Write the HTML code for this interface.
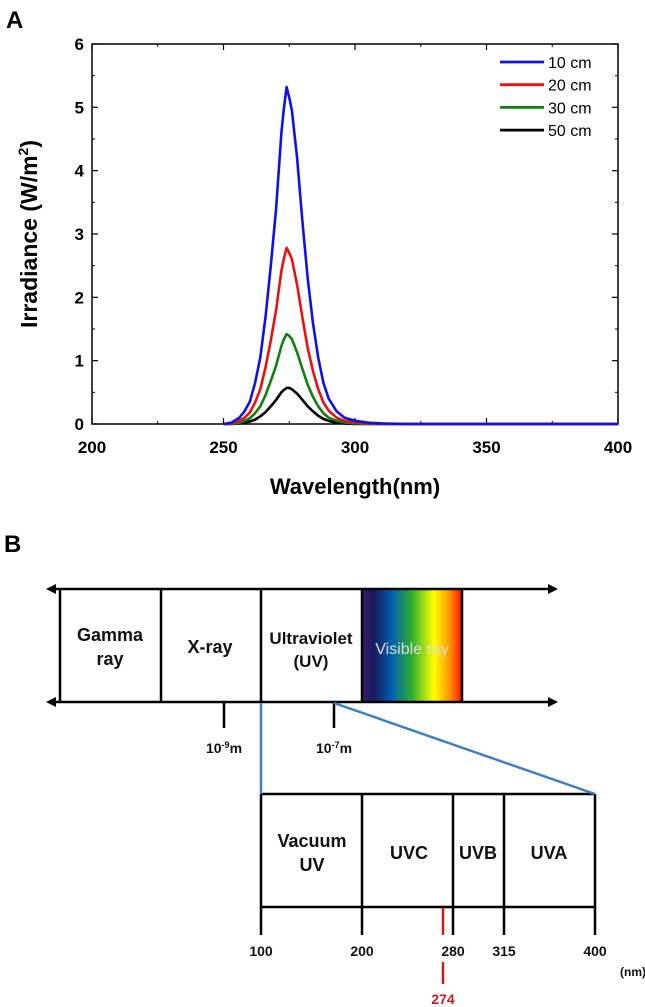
<!DOCTYPE html>
<html><head><meta charset="utf-8"><style>
body{margin:0;background:#fff}
svg{display:block;font-family:"Liberation Sans",sans-serif}
</style></head><body>
<svg id="fig" width="645" height="1007" viewBox="0 0 645 1007">
<text x="6" y="28" font-size="24" font-weight="bold">A</text>
<g id="chart"></g>
<text x="4" y="552" font-size="24" font-weight="bold">B</text>
<g id="spec">
<defs>
<linearGradient id="vis" x1="0" x2="1" y1="0" y2="0">
<stop offset="0" stop-color="#3a1a6e"/><stop offset="0.12" stop-color="#1a1a5e"/><stop offset="0.3" stop-color="#0060b0"/><stop offset="0.5" stop-color="#30b030"/><stop offset="0.72" stop-color="#ffff00"/><stop offset="0.88" stop-color="#ff9000"/><stop offset="1" stop-color="#ff1000"/>
</linearGradient>
</defs>
<rect x="362" y="589" width="100" height="113" fill="url(#vis)"/>
<g stroke="#000" stroke-width="2.5" fill="none">
<line x1="50" y1="589" x2="552" y2="589"/>
<line x1="50" y1="702" x2="552" y2="702"/>
<line x1="60" y1="589" x2="60" y2="702"/><line x1="161" y1="589" x2="161" y2="702"/><line x1="261" y1="589" x2="261" y2="702"/><line x1="362" y1="589" x2="362" y2="702"/><line x1="462" y1="589" x2="462" y2="702"/>
<line x1="224" y1="702" x2="224" y2="728"/>
<line x1="334" y1="702" x2="334" y2="728"/>
<line x1="261" y1="794" x2="595" y2="794"/><line x1="261" y1="907" x2="595" y2="907"/>
<line x1="261" y1="794" x2="261" y2="935"/><line x1="362" y1="794" x2="362" y2="935"/><line x1="453" y1="794" x2="453" y2="935"/><line x1="504" y1="794" x2="504" y2="935"/><line x1="595" y1="794" x2="595" y2="935"/>
</g>
<g fill="#000">
<polygon points="46,589 56,584 56,594"/><polygon points="558,589 548,584 548,594"/>
<polygon points="46,702 56,697 56,707"/><polygon points="558,702 548,697 548,707"/>
</g>
<g stroke="#3d7fc2" stroke-width="2.5">
<line x1="261" y1="703" x2="261" y2="794"/>
<line x1="334" y1="703" x2="595" y2="794"/>
</g>
<g stroke="#c81e1e" stroke-width="2.5">
<line x1="443" y1="908" x2="443" y2="935"/>
<line x1="443" y1="962" x2="443" y2="984"/>
</g>
<g font-size="18" font-weight="bold" text-anchor="middle" fill="#111">
<text x="110" y="641">Gamma</text>
<text x="110" y="665">ray</text>
<text x="210" y="653">X-ray</text>
<text x="311" y="644" font-size="17">Ultraviolet</text>
<text x="311" y="667" font-size="17">(UV)</text>
<text x="412" y="654" font-size="16" fill="#ddd" font-weight="normal">Visible ray</text>
<text x="312" y="847">Vacuum</text>
<text x="312" y="871">UV</text>
<text x="409" y="859">UVC</text>
<text x="478" y="859">UVB</text>
<text x="549" y="859">UVA</text>
</g>
<g font-size="14" font-weight="bold" text-anchor="middle" fill="#111">
<text x="224" y="753">10<tspan font-size="9" dy="-5">-9</tspan><tspan dy="5">m</tspan></text>
<text x="334" y="753">10<tspan font-size="9" dy="-5">-7</tspan><tspan dy="5">m</tspan></text>
<text x="261" y="956">100</text><text x="362" y="956">200</text><text x="453" y="956">280</text><text x="504" y="956">315</text><text x="595" y="956">400</text>
<text x="633" y="976" font-size="12">(nm)</text>
<text x="443" y="1004" fill="#c81e1e">274</text>
</g>
</g>
</svg>
<script>
const wavelengths = [250,253,256,258,260,262,264,266,268,270,272,273,274,275,276,278,280,282,284,286,288,290,293,296,300,305,310,320,400];
const series10 = [0,0.02,0.1,0.2,0.35,0.65,1.05,1.7,2.5,3.4,4.6,5.0,5.32,5.15,4.95,4.2,3.2,2.3,1.6,1.05,0.65,0.4,0.2,0.1,0.05,0.02,0.01,0,0];
const series20 = [0,0.01,0.05,0.1,0.18,0.34,0.55,0.9,1.32,1.8,2.42,2.62,2.78,2.7,2.6,2.2,1.68,1.2,0.84,0.55,0.34,0.21,0.1,0.05,0.025,0.01,0.005,0,0];
const series30 = [0,0,0.02,0.05,0.09,0.17,0.28,0.46,0.68,0.92,1.23,1.34,1.42,1.39,1.34,1.13,0.87,0.62,0.43,0.28,0.17,0.1,0.05,0.025,0.01,0,0,0,0];
const series50 = [0,0,0.01,0.02,0.04,0.07,0.12,0.19,0.28,0.38,0.5,0.54,0.57,0.57,0.55,0.48,0.38,0.28,0.2,0.13,0.08,0.05,0.02,0.01,0,0,0,0,0];
const seriesNames = ["10 cm","20 cm","30 cm","50 cm"];
const xTicks = [200,250,300,350,400];
const yTicks = [0,1,2,3,4,5,6];

const NS="http://www.w3.org/2000/svg";
const g=document.getElementById('chart');
const L=92,R=618,T=44,B=424;
const xS=v=>L+(v-200)/200*(R-L);
const yS=v=>B-v/6*(B-T);
function mk(tag,attrs,parent){const e=document.createElementNS(NS,tag);for(const k in attrs)e.setAttribute(k,attrs[k]);(parent||g).appendChild(e);return e;}

const frame=mk('rect',{x:L,y:T,width:R-L,height:B-T,fill:'none',stroke:'#000','stroke-width':1.5});



xTicks.forEach((t,i)=>{
  const x=xS(t);
  mk('line',{x1:x,y1:B,x2:x,y2:B-6,stroke:'#000','stroke-width':1.2});
  mk('line',{x1:x,y1:T,x2:x,y2:T+6,stroke:'#000','stroke-width':1.2});
  if(i<xTicks.length-1){const xm=xS(t+25);mk('line',{x1:xm,y1:B,x2:xm,y2:B-3,stroke:'#000'});mk('line',{x1:xm,y1:T,x2:xm,y2:T+3,stroke:'#000'});}
  const tx=mk('text',{x:x,y:453,'font-size':17,'font-weight':'bold','text-anchor':'middle'});
  tx.textContent=t;
  
  
});
yTicks.forEach((t,i)=>{
  const y=yS(t);
  mk('line',{x1:L,y1:y,x2:L+6,y2:y,stroke:'#000','stroke-width':1.2});
  mk('line',{x1:R,y1:y,x2:R-6,y2:y,stroke:'#000','stroke-width':1.2});
  if(i<yTicks.length-1){const ym=yS(t+0.5);mk('line',{x1:L,y1:ym,x2:L+3,y2:ym,stroke:'#000'});mk('line',{x1:R,y1:ym,x2:R-3,y2:ym,stroke:'#000'});}
  const ty=mk('text',{x:L-8,y:y+6,'font-size':17,'font-weight':'bold','text-anchor':'end'});
  ty.textContent=t;
  
  
});
const xt=mk('text',{x:355,y:494,'font-size':22,'font-weight':'bold','text-anchor':'middle'});
xt.textContent='Wavelength(nm)';


const yt=mk('text',{x:0,y:0,'font-size':23,'font-weight':'bold','text-anchor':'middle',transform:'translate(37,234) rotate(-90)'});
yt.innerHTML='Irradiance (W/m<tspan font-size="14" dy="-9">2</tspan><tspan dy="9">)</tspan>';



const all=[series10,series20,series30,series50];
const colors=['#1010ee','#ee1010','#108010','#000'];
[3,2,1,0].forEach(si=>{
  const d=wavelengths.map((w,i)=>(i?'L':'M')+xS(w).toFixed(1)+','+yS(all[si][i]).toFixed(1)).join(' ');
  const p=mk('path',{d:d,fill:'none',stroke:colors[si],'stroke-width':2.6,'stroke-linejoin':'round'});
  
  
});
seriesNames.forEach((n,i)=>{
  const y=62+i*22.7;
  const ln=mk('line',{x1:500,y1:y,x2:544,y2:y,stroke:colors[i],'stroke-width':2.8});
  
  
  const t=mk('text',{x:548,y:y+6,'font-size':16});
  t.textContent=n;
  
  
});
</script>
</body></html>
